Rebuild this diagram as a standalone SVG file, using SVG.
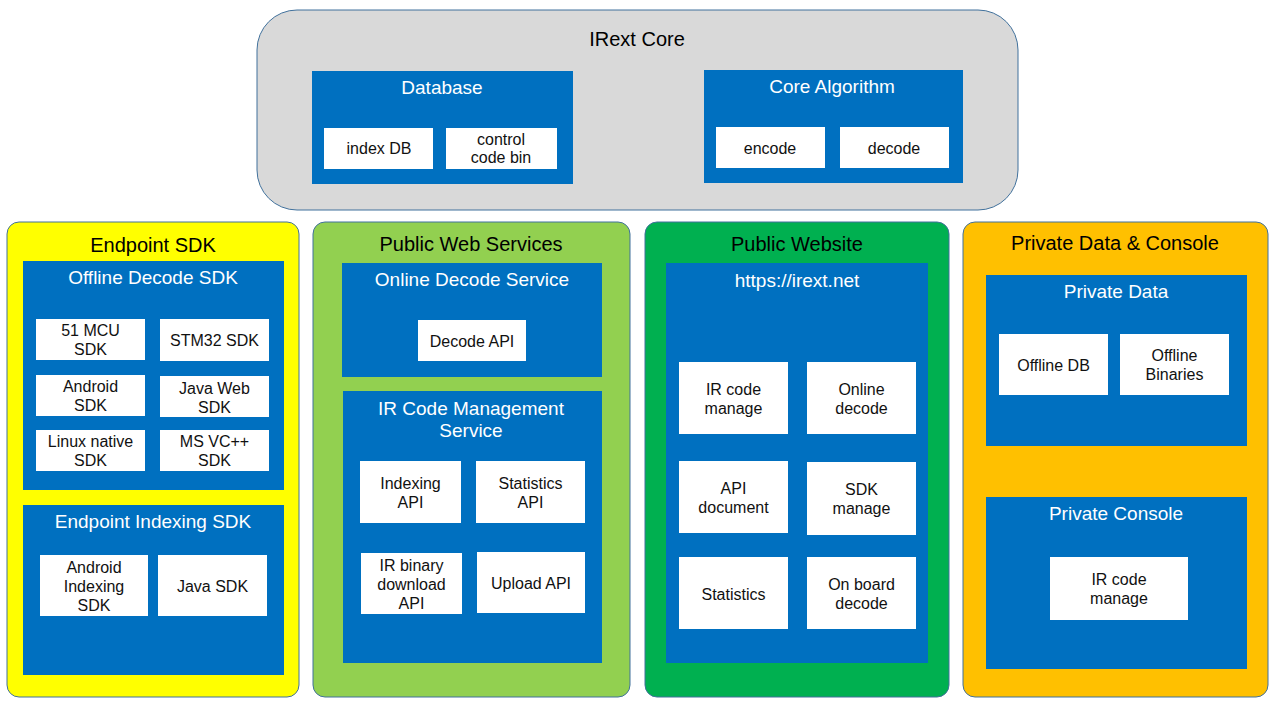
<svg xmlns="http://www.w3.org/2000/svg" width="1280" height="720" viewBox="0 0 1280 720">
<style>
.outer{stroke:#41719c;stroke-width:1}
.inner{fill:#0070c0}
.box{fill:#ffffff}
text{font-family:"Liberation Sans","Noto Sans","DejaVu Sans",sans-serif;text-anchor:middle;dominant-baseline:central}
.t1{font-size:20px;fill:#000}
.t2{font-size:19px;fill:#fff}
.t3{font-size:16px;fill:#111}
</style>
<rect width="1280" height="720" fill="#fff"/>
<g id="irext-core">
<rect class="outer" x="257" y="10" width="761" height="200" rx="40" fill="#d9d9d9"/>
<text class="t1" x="637" y="39">IRext Core</text>
<g id="database">
<rect class="inner" x="312" y="71" width="261" height="113"/>
<text class="t2" x="442" y="87">Database</text>
<rect class="box" x="324" y="128" width="109" height="41"/>
<text class="t3" x="379" y="148">index DB</text>
<rect class="box" x="446" y="128" width="111" height="41"/>
<text class="t3" x="501" y="139">control</text>
<text class="t3" x="501" y="157">code bin</text>
</g>
<g id="core-algorithm">
<rect class="inner" x="704" y="70" width="259" height="113"/>
<text class="t2" x="832" y="86">Core Algorithm</text>
<rect class="box" x="716" y="127" width="109" height="41"/>
<text class="t3" x="770" y="148">encode</text>
<rect class="box" x="840" y="127" width="109" height="41"/>
<text class="t3" x="894" y="148">decode</text>
</g>
</g>
<g id="endpoint-sdk">
<rect class="outer" x="7" y="222" width="292" height="475" rx="12" fill="#ffff00"/>
<text class="t1" x="153" y="245">Endpoint SDK</text>
<g id="offline-decode-sdk">
<rect class="inner" x="23" y="261" width="261" height="229"/>
<text class="t2" x="153" y="277">Offline Decode SDK</text>
<rect class="box" x="36" y="319" width="109" height="41"/>
<text class="t3" x="90.5" y="330">51 MCU</text>
<text class="t3" x="90.5" y="349">SDK</text>
<rect class="box" x="160" y="319" width="109" height="42"/>
<text class="t3" x="214.5" y="340">STM32 SDK</text>
<rect class="box" x="36" y="375" width="109" height="41"/>
<text class="t3" x="90.5" y="386">Android</text>
<text class="t3" x="90.5" y="405">SDK</text>
<rect class="box" x="160" y="376" width="109" height="41"/>
<text class="t3" x="214.5" y="388">Java Web</text>
<text class="t3" x="214.5" y="407">SDK</text>
<rect class="box" x="36" y="430" width="109" height="41"/>
<text class="t3" x="90.5" y="441">Linux native</text>
<text class="t3" x="90.5" y="460">SDK</text>
<rect class="box" x="160" y="430" width="109" height="41"/>
<text class="t3" x="214.5" y="441">MS VC++</text>
<text class="t3" x="214.5" y="460">SDK</text>
</g>
<g id="endpoint-indexing-sdk">
<rect class="inner" x="23" y="505" width="261" height="170"/>
<text class="t2" x="153" y="521">Endpoint Indexing SDK</text>
<rect class="box" x="40" y="555" width="108" height="61"/>
<text class="t3" x="94" y="567">Android</text>
<text class="t3" x="94" y="586">Indexing</text>
<text class="t3" x="94" y="605">SDK</text>
<rect class="box" x="158" y="555" width="109" height="61"/>
<text class="t3" x="212.5" y="586">Java SDK</text>
</g>
</g>
<g id="public-web-services">
<rect class="outer" x="313" y="222" width="317" height="475" rx="12" fill="#92d050"/>
<text class="t1" x="471" y="244">Public Web Services</text>
<g id="online-decode-service">
<rect class="inner" x="342" y="263" width="260" height="114"/>
<text class="t2" x="472" y="279">Online Decode Service</text>
<rect class="box" x="418" y="320" width="108" height="41"/>
<text class="t3" x="472" y="341">Decode API</text>
</g>
<g id="ir-code-management-service">
<rect class="inner" x="343" y="391" width="259" height="272"/>
<text class="t2" x="471" y="408">IR Code Management</text>
<text class="t2" x="471" y="430">Service</text>
<rect class="box" x="360" y="461" width="101" height="62"/>
<text class="t3" x="410.5" y="483">Indexing</text>
<text class="t3" x="410.5" y="502">API</text>
<rect class="box" x="476" y="461" width="109" height="62"/>
<text class="t3" x="530.5" y="483">Statistics</text>
<text class="t3" x="530.5" y="502">API</text>
<rect class="box" x="361" y="553" width="101" height="61"/>
<text class="t3" x="411.5" y="565">IR binary</text>
<text class="t3" x="411.5" y="584">download</text>
<text class="t3" x="411.5" y="603">API</text>
<rect class="box" x="477" y="552" width="108" height="61"/>
<text class="t3" x="531" y="583">Upload API</text>
</g>
</g>
<g id="public-website">
<rect class="outer" x="645" y="222" width="304" height="475" rx="12" fill="#00b050"/>
<text class="t1" x="797" y="244">Public Website</text>
<g id="irext-net">
<rect class="inner" x="666" y="263" width="262" height="400"/>
<text class="t2" x="797" y="280">https://irext.net</text>
<rect class="box" x="679" y="362" width="109" height="72"/>
<text class="t3" x="733.5" y="389">IR code</text>
<text class="t3" x="733.5" y="408">manage</text>
<rect class="box" x="807" y="362" width="109" height="72"/>
<text class="t3" x="861.5" y="389">Online</text>
<text class="t3" x="861.5" y="408">decode</text>
<rect class="box" x="679" y="461" width="109" height="72"/>
<text class="t3" x="733.5" y="488">API</text>
<text class="t3" x="733.5" y="507">document</text>
<rect class="box" x="807" y="462" width="109" height="73"/>
<text class="t3" x="861.5" y="489">SDK</text>
<text class="t3" x="861.5" y="508">manage</text>
<rect class="box" x="679" y="557" width="109" height="72"/>
<text class="t3" x="733.5" y="594">Statistics</text>
<rect class="box" x="807" y="557" width="109" height="72"/>
<text class="t3" x="861.5" y="584">On board</text>
<text class="t3" x="861.5" y="603">decode</text>
</g>
</g>
<g id="private-data-console">
<rect class="outer" x="963" y="222" width="305" height="475" rx="12" fill="#ffc000"/>
<text class="t1" x="1115" y="243">Private Data &amp; Console</text>
<g id="private-data">
<rect class="inner" x="986" y="275" width="261" height="171"/>
<text class="t2" x="1116" y="291">Private Data</text>
<rect class="box" x="999" y="334" width="109" height="61"/>
<text class="t3" x="1053.5" y="365">Offline DB</text>
<rect class="box" x="1120" y="334" width="109" height="61"/>
<text class="t3" x="1174.5" y="355">Offline</text>
<text class="t3" x="1174.5" y="374">Binaries</text>
</g>
<g id="private-console">
<rect class="inner" x="986" y="497" width="261" height="172"/>
<text class="t2" x="1116" y="513">Private Console</text>
<rect class="box" x="1050" y="557" width="138" height="63"/>
<text class="t3" x="1119" y="579">IR code</text>
<text class="t3" x="1119" y="598">manage</text>
</g>
</g>
<g id="connectors"></g>
</svg>
